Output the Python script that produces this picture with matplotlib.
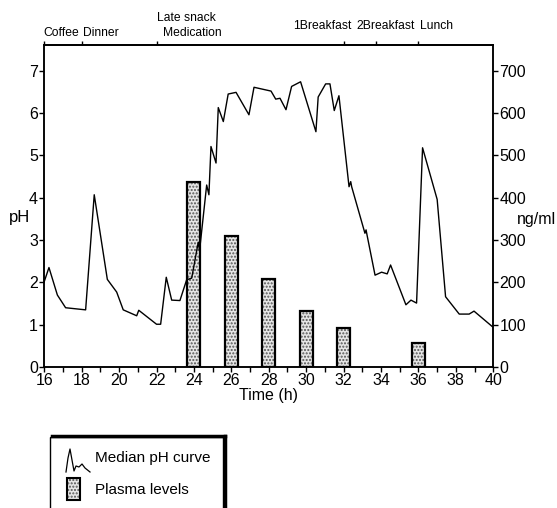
import matplotlib
matplotlib.use("Agg")
import matplotlib.pyplot as plt
from matplotlib.patches import Rectangle
from matplotlib.lines import Line2D

plt.rcParams['font.family'] = ['Liberation Sans', 'DejaVu Sans']

# Median pH curve (time in hours, pH)
ph_time = [16.0, 16.25, 16.7, 17.14, 18.21, 18.67, 19.37, 19.87, 20.22, 20.94, 21.05,
           22.0, 22.22, 22.52, 22.81, 23.25, 23.61, 23.88, 24.23, 24.3, 24.68, 24.8,
           24.91, 25.18, 25.30, 25.57, 25.83, 26.25, 26.94, 27.21, 28.12, 28.37, 28.6,
           28.92, 29.22, 29.7, 30.52, 30.64, 31.04, 31.27, 31.5, 31.75, 32.29, 32.38,
           32.43, 33.14, 33.2, 33.26, 33.68, 34.03, 34.33, 34.51, 35.33, 35.6, 35.9,
           36.22, 37.0, 37.45, 38.18, 38.71, 38.97, 39.96]
ph_values = [2.02, 2.35, 1.70, 1.40, 1.35, 4.07, 2.07, 1.77, 1.35, 1.21, 1.34,
             1.01, 1.01, 2.12, 1.58, 1.57, 2.06, 2.10, 2.95, 2.75, 4.30, 4.07,
             5.21, 4.82, 6.13, 5.80, 6.45, 6.49, 5.96, 6.61, 6.52, 6.33, 6.35,
             6.08, 6.63, 6.74, 5.56, 6.38, 6.69, 6.69, 6.06, 6.41, 4.26, 4.38,
             4.26, 3.16, 3.24, 3.10, 2.17, 2.24, 2.20, 2.41, 1.47, 1.58, 1.51,
             5.18, 3.96, 1.66, 1.25, 1.25, 1.32, 0.95]

# Plasma levels (ng/ml)
plasma_time = [24, 26, 28, 30, 32, 36]
plasma_values = [438, 310, 208, 133, 93, 56]

# Meal / event markers on top axis
event_ticks = [16, 18, 22, 32, 33.75, 36]
event_labels = [("Coffee", 15.93, 1.037), ("Dinner", 18.07, 1.037),
                ("Late snack", 22.02, 1.084), ("Medication", 22.34, 1.037),
                ("1Breakfast", 29.29, 1.059), ("2Breakfast", 32.66, 1.059),
                ("Lunch", 36.08, 1.059)]

x_ticks = list(range(16, 41, 2))
ph_ticks = list(range(0, 8))
ng_ticks = list(range(0, 701, 100))

fig = plt.figure(figsize=(5.57, 5.08), dpi=100)
ax = fig.add_axes([0.0795, 0.2776, 0.8061, 0.6339])
ax2 = ax.twinx()

ax.set_xlim(16, 40)
ax.set_ylim(0, 7.61)
ax2.set_ylim(0, 761)

# bars on ng/ml axis
ax2.bar(plasma_time, plasma_values, width=0.7, color='#e6e6e6', edgecolor='#555555',
        hatch='.....', linewidth=0, zorder=2)
ax2.bar(plasma_time, plasma_values, width=0.7, fill=False, edgecolor='black',
        linewidth=1.6, zorder=3)

ax.plot(ph_time, ph_values, color='black', lw=1.0, zorder=5)
ax.set_zorder(ax2.get_zorder() + 1)
ax.patch.set_visible(False)

for a in (ax, ax2):
    for s in a.spines.values():
        s.set_linewidth(1.1)
        s.set_color('black')

ax.set_xticks(x_ticks)
ax.set_xticks(range(16, 41), minor=True)
ax.set_yticks(ph_ticks)
ax2.set_yticks(ng_ticks)
ax.tick_params(axis='x', which='both', direction='out', length=3.5, width=1,
               labelsize=11.5, pad=1)
ax.tick_params(axis='y', direction='out', length=3.5, width=1, labelsize=11.5, pad=1)
ax2.tick_params(axis='y', direction='out', length=3.5, width=1, labelsize=11.5, pad=1)

ax.set_xlabel("Time (h)", fontsize=11.5, labelpad=0)
ax.text(-0.056, 0.463, "pH", transform=ax.transAxes, fontsize=12,
        ha='center', va='center')
ax.text(1.097, 0.457, "ng/ml", transform=ax.transAxes, fontsize=11.5,
        ha='center', va='center')

sec = ax.secondary_xaxis('top')
sec.set_xticks(event_ticks)
sec.set_xticklabels([''] * len(event_ticks))
sec.tick_params(direction='out', length=3, width=1)
sec.spines['top'].set_linewidth(1.1)

for lab, xx, yy in event_labels:
    ax.text(xx, yy, lab, transform=ax.get_xaxis_transform(), fontsize=8.7,
            ha='left', va='center')

# Legend box (manual, with shadow on top/right)
W, H = 557.0, 508.0
def fx(p):
    return p / W
def fy(p):
    return 1 - p / H

box = Rectangle((fx(50), fy(510)), fx(223) - fx(50), fy(437) - fy(510),
                transform=fig.transFigure, fill=False, edgecolor='black', lw=1.0)
fig.add_artist(box)
fig.add_artist(Line2D([fx(52), fx(225)], [fy(435.5), fy(435.5)],
                      transform=fig.transFigure, color='black', lw=2.5))
fig.add_artist(Line2D([fx(224.5), fx(224.5)], [fy(435.5), fy(510)],
                      transform=fig.transFigure, color='black', lw=2.5))

icon_x = [66, 68, 70, 72, 74, 76, 79, 82, 85, 90]
icon_y = [472, 458, 449, 460, 471, 466, 467, 464, 468, 472]
fig.add_artist(Line2D([fx(v) for v in icon_x], [fy(v) for v in icon_y],
                      transform=fig.transFigure, color='black', lw=0.9))
fig.text(fx(95), fy(458), "Median pH curve", fontsize=11, ha='left', va='center')

fig.add_artist(Rectangle((fx(67), fy(500)), fx(80) - fx(67), fy(478) - fy(500),
                         transform=fig.transFigure, facecolor='#e6e6e6',
                         edgecolor='#555555', hatch='.....', lw=0))
fig.add_artist(Rectangle((fx(67), fy(500)), fx(80) - fx(67), fy(478) - fy(500),
                         transform=fig.transFigure, fill=False,
                         edgecolor='black', lw=1.5))
fig.text(fx(95), fy(490), "Plasma levels", fontsize=11, ha='left', va='center')

fig.savefig("out.png", dpi=100)
